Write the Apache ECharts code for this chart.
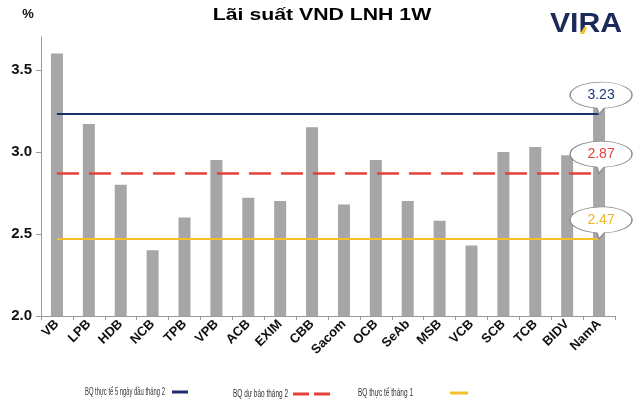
<!DOCTYPE html>
<html>
<head>
<meta charset="utf-8">
<script src="https://cdn.jsdelivr.net/npm/echarts@6/dist/echarts.min.js"></script>
<style>html,body{margin:0;padding:0;background:#fff}#c{width:640px;height:408px}</style>
</head>
<body>
<div id="c"></div>
<script>
const categories = ['VB','LPB','HDB','NCB','TPB','VPB','ACB','EXIM','CBB','Sacom','OCB','SeAb','MSB','VCB','SCB','TCB','BIDV','NamA'];
const rates = [3.60,3.17,2.80,2.40,2.60,2.95,2.72,2.70,3.15,2.68,2.95,2.70,2.58,2.43,3.00,3.03,2.98,3.28];
const refNames = ['BQ thực tế 5 ngày đầu tháng 2','BQ dự báo tháng 2','BQ thực tế tháng 1'];
const refValues = [3.23, 2.87, 2.47];
const yTicks = [2.0, 2.5, 3.0, 3.5];

const refColors = ['#1c2f6b','#e5403a','#f3bf2a'];
const refTextColors = ['#1f3a7c','#e5403a','#f0b42a'];
const refDash = ['solid',[22,10],'solid'];
const refWidth = [2,2.5,2];
const bubblePath = 'path://M30 25.88A30 13 0 1 1 37 25.93L32 32Z';

const refSeries = refNames.map((n,i)=>({
  name: n, type: 'scatter', data: [], z: 5,
  itemStyle: {color: refColors[i]},
  markLine: {
    silent: true, symbol: 'none', animation: false,
    label: {show: false},
    lineStyle: {color: refColors[i], type: refDash[i], width: refWidth[i]},
    data: [[{coord: [categories[0], refValues[i]]},{coord: [categories[categories.length-1], refValues[i]]}]]
  },
  markPoint: {
    silent: true, animation: false,
    symbol: bubblePath, symbolSize: [62,32], symbolOffset: [2,-16], symbolKeepAspect: false,
    itemStyle: {color: '#ffffff', borderColor: '#8a8a8a', borderWidth: 1},
    label: {show: true, position: 'inside', offset: [0,-3], formatter: refValues[i].toFixed(2), color: refTextColors[i], fontSize: 14, fontFamily: 'Liberation Sans, Arial'},
    data: [{coord: [categories[categories.length-1], refValues[i]], value: refValues[i]}]
  }
}));

// legend drawn as condensed text + line keys
const legFont = '11px "Liberation Sans", Arial';
const mctx = document.createElement('canvas').getContext('2d');
mctx.font = legFont;
const legTextLeft = [85, 233, 358];
const legTextWidth = [80, 55, 55];
const legY = [392, 394, 393];
const legKeys = [[[172,16]], [[293,16],[314,16]], [[450,18]]];
const legendGraphics = [];
refNames.forEach((n,i)=>{
  const w = mctx.measureText(n).width || 1;
  legendGraphics.push({type:'text', x: legTextLeft[i], y: legY[i], scaleX: legTextWidth[i]/w,
    style:{text:n, font: legFont, fill:'#333', align:'left', verticalAlign:'middle'}});
  legKeys[i].forEach(k=>{
    legendGraphics.push({type:'rect', shape:{x:k[0], y:legY[i]-1.5, width:k[1], height:3}, style:{fill: refColors[i]}});
  });
});

const chart = echarts.init(document.getElementById('c'), null, {renderer: 'canvas'});
chart.setOption({
  animation: false,
  backgroundColor: '#ffffff',
  grid: {left: 41, right: 25, top: 37, bottom: 92},
  graphic: [
    {type: 'text', x: 322, y: 15, scaleX: 1.25, style: {text: 'Lãi suất VND LNH 1W', font: 'bold 17px "Liberation Sans", Arial', fill: '#000', align: 'center', verticalAlign: 'middle'}},
    {type: 'text', x: 28, y: 14, style: {text: '%', font: 'bold 13px "Liberation Sans", Arial', fill: '#111', align: 'center', verticalAlign: 'middle'}},
    {type: 'text', x: 586, y: 25, scaleX: 1.12, style: {text: 'VIRA', font: 'bold 27px "Liberation Sans", Arial', fill: '#1b2a58', align: 'center', verticalAlign: 'middle'}},
    {type: 'polygon', shape: {points: [[580,34],[584,27],[587,27],[584,34]]}, style: {fill: '#f3c322'}}
  ].concat(legendGraphics),
  xAxis: {
    type: 'category', data: categories, boundaryGap: true,
    axisLine: {lineStyle: {color: '#9a9a9a', width: 1}},
    axisTick: {show: true, length: 4, lineStyle: {color: '#9a9a9a'}},
    axisLabel: {interval: 0, rotate: 45, margin: 6, color: '#111', fontWeight: 'bold', fontSize: 13, fontFamily: 'Liberation Sans, Arial'}
  },
  yAxis: {
    type: 'value', min: 2.0, max: 3.7, interval: 0.5,
    splitLine: {show: false},
    axisLine: {show: true, lineStyle: {color: '#9a9a9a', width: 1}},
    axisTick: {show: true, inside: false, length: 5, lineStyle: {color: '#9a9a9a'}},
    axisLabel: {margin: 9, color: '#111', fontWeight: 'bold', fontSize: 15, fontFamily: 'Liberation Sans, Arial', showMaxLabel: false,
      formatter: v => yTicks.some(t => Math.abs(t - v) < 1e-9) ? v.toFixed(1) : ''}
  },
  series: [
    {name: 'Lãi suất', type: 'bar', data: rates, barWidth: 12, itemStyle: {color: '#a6a6a6'}, z: 2}
  ].concat(refSeries)
});
</script>
</body>
</html>
